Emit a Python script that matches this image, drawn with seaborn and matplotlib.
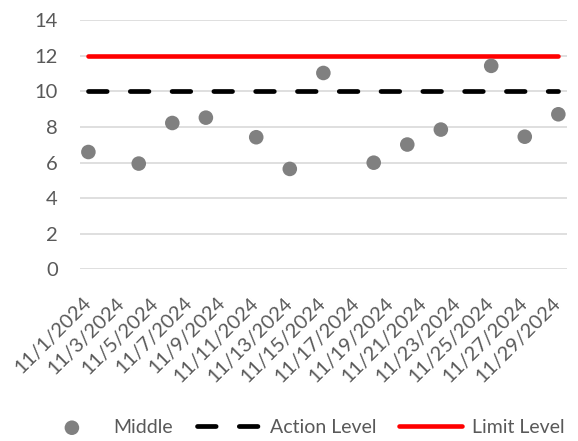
import datetime as dt
import matplotlib
matplotlib.use("Agg")
import matplotlib.pyplot as plt
import seaborn as sns
import pandas as pd

# ---- data ----
sample_days = [1, 4, 6, 8, 11, 13, 15, 18, 20, 22, 25, 27, 29]
middle_values = [6.60, 5.95, 8.23, 8.53, 7.43, 5.65, 11.04, 6.00, 7.02, 7.86, 11.44, 7.46, 8.72]
action_level = [10] * len(sample_days)
limit_level = [12] * len(sample_days)
tick_days = [1, 3, 5, 7, 9, 11, 13, 15, 17, 19, 21, 23, 25, 27, 29]
y_ticks = [0, 2, 4, 6, 8, 10, 12, 14]

dates = [dt.datetime(2024, 11, d) for d in sample_days]
df = pd.DataFrame({"Date": dates, "Middle": middle_values,
                   "Action Level": action_level, "Limit Level": limit_level})
tick_dates = [dt.datetime(2024, 11, d) for d in tick_days]
tick_labels = [f"{d.month}/{d.day}/{d.year}" for d in tick_dates]

sns.set_theme(style="white")
plt.rcParams["font.family"] = ["Lato", "DejaVu Sans"]
text_color = "#595959"

fig = plt.figure(figsize=(5.78, 4.41), dpi=100)
ax = fig.add_axes([0.1384, 0.3889, 0.8421, 0.5651])

sns.lineplot(data=df, x="Date", y="Limit Level", ax=ax, color="#FF0000",
             linewidth=3.3, label="Limit Level", solid_capstyle="round", zorder=2)
sns.lineplot(data=df, x="Date", y="Action Level", ax=ax, color="black",
             linewidth=3.4, label="Action Level", zorder=2)
ax.lines[-1].set_dashes((3.95, 4.9))
ax.lines[-1].set_dash_capstyle("round")
sns.scatterplot(data=df, x="Date", y="Middle", ax=ax, color="#808080",
                s=110, edgecolor="none", label="Middle", zorder=3)

ax.set_xlim(dt.datetime(2024, 10, 31, 12), dt.datetime(2024, 11, 29, 12))
ax.set_ylim(0, 14)
ax.set_yticks(y_ticks)
ax.set_xticks(tick_dates)
ax.set_xticklabels(tick_labels, rotation=45, ha="right", va="center",
                   rotation_mode="anchor")
ax.grid(axis="y", color="#D9D9D9", linewidth=1.2)
ax.set_axisbelow(True)
for s in ax.spines.values():
    s.set_visible(False)
ax.set_xlabel("")
ax.set_ylabel("")
ax.tick_params(axis="both", length=0, colors=text_color)
ax.tick_params(axis="y", pad=16, labelsize=14.5)
ax.tick_params(axis="x", pad=22, labelsize=14.5)

handles, labels = ax.get_legend_handles_labels()
order = [labels.index(n) for n in ["Middle", "Action Level", "Limit Level"]]
leg = ax.legend([handles[i] for i in order], [labels[i] for i in order],
                loc="center", bbox_to_anchor=(0.524, 0.031), bbox_transform=fig.transFigure,
                ncol=3, frameon=False, fontsize=14, labelcolor=text_color,
                handlelength=3.2, handletextpad=0.55, columnspacing=1.2)
for h in leg.legend_handles:
    if hasattr(h, "set_dash_capstyle"):
        h.set_dash_capstyle("round")
        h.set_solid_capstyle("round")

fig.savefig("out.png", dpi=100)
